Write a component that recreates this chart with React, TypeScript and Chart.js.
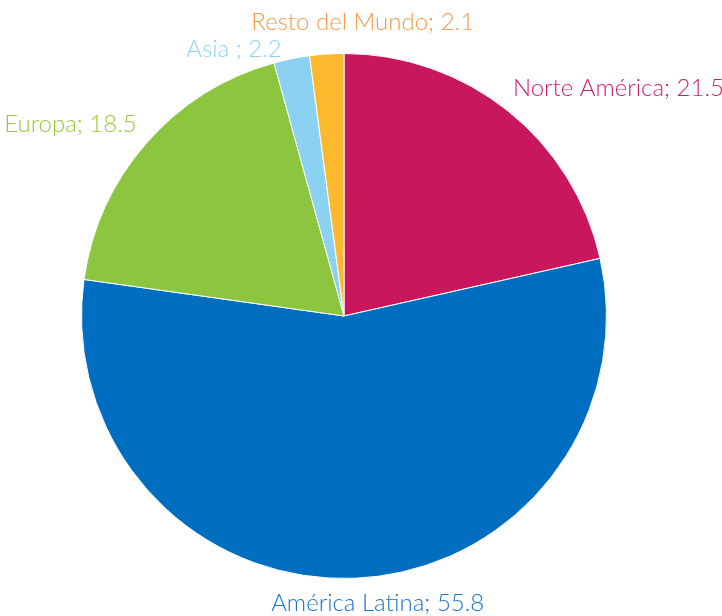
import React, { useEffect, useRef } from "react";
import { Chart, registerables } from "chart.js";

Chart.register(...registerables);

const categories = ["Norte América", "América Latina", "Europa", "Asia ", "Resto del Mundo"];
const values = [21.5, 55.8, 18.5, 2.2, 2.1];
const sliceColors = ["#c8175d", "#006ec0", "#8cc63f", "#8bd1f1", "#fdb92d"];
const labelColors = ["#cc1f62", "#1a75c4", "#95c93a", "#8fd3f2", "#f59a45"];
// label placement relative to the outer point of each slice's mid-angle
const labelPlacement = [
  { dx: 5, dy: -23, align: "left" },
  { dx: 23, dy: 25, align: "center" },
  { dx: -10, dy: -19, align: "right" },
  { dx: -10, dy: -10, align: "right" },
  { dx: 36, dy: -32, align: "center" },
];

const labelPlugin = {
  id: "sliceLabels",
  afterDraw(chart: any) {
    const ctx = chart.ctx;
    const meta = chart.getDatasetMeta(0);
    ctx.save();
    ctx.font = "300 24px Lato, sans-serif";
    ctx.textBaseline = "middle";
    meta.data.forEach((arc: any, i: number) => {
      const { x, y, startAngle, endAngle, outerRadius } = arc.getProps(
        ["x", "y", "startAngle", "endAngle", "outerRadius"],
        true
      );
      const mid = (startAngle + endAngle) / 2;
      const px = x + Math.cos(mid) * outerRadius;
      const py = y + Math.sin(mid) * outerRadius;
      const p = labelPlacement[i];
      ctx.textAlign = p.align;
      ctx.fillStyle = labelColors[i];
      const v = values[i].toFixed(1);
      ctx.fillText(`${categories[i]}; ${v}`, px + p.dx, py + p.dy);
    });
    ctx.restore();
  },
};

export default function App() {
  const ref = useRef<HTMLCanvasElement>(null);
  useEffect(() => {
    if (!ref.current) return;
    const chart = new Chart(ref.current, {
      type: "pie",
      data: {
        labels: categories,
        datasets: [
          {
            data: values,
            backgroundColor: sliceColors,
            borderColor: "#ffffff",
            borderWidth: 1,
          },
        ],
      },
      options: {
        animation: false,
        responsive: false,
        maintainAspectRatio: false,
        layout: { padding: { left: 81, right: 115, top: 53, bottom: 37 } },
        plugins: {
          legend: { display: false },
          tooltip: { enabled: false },
        },
      },
      plugins: [labelPlugin],
    });
    return () => chart.destroy();
  }, []);
  return (
    <div style={{ position: "fixed", left: 0, top: 0, width: 722, height: 616, background: "#fff" }}>
      <canvas ref={ref} width={722} height={616} style={{ display: "block" }} />
    </div>
  );
}
